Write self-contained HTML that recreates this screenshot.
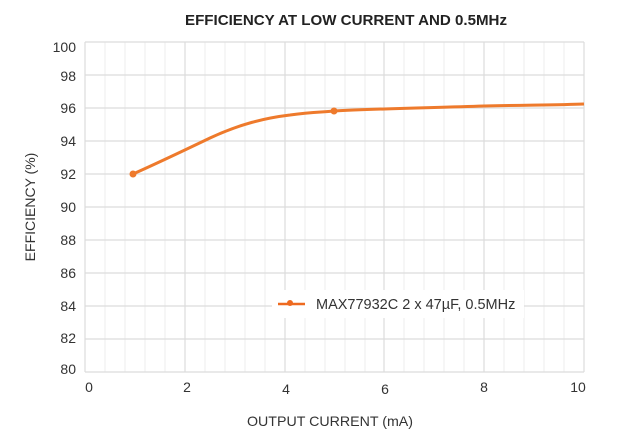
<!DOCTYPE html><html><head><style>body{margin:0;background:#fff}svg{display:block;font-family:"Liberation Sans",sans-serif}</style></head><body>
<svg width="630" height="440" viewBox="0 0 630 440">
<text x="346" y="25" text-anchor="middle" font-size="15" font-weight="bold" fill="#222" textLength="322" lengthAdjust="spacingAndGlyphs">EFFICIENCY AT LOW CURRENT AND 0.5MHz</text>
<g stroke="#eeeeee" stroke-width="1">
<line x1="105" y1="42" x2="105" y2="372"/><line x1="125" y1="42" x2="125" y2="372"/><line x1="145" y1="42" x2="145" y2="372"/><line x1="165" y1="42" x2="165" y2="372"/>
<line x1="205" y1="42" x2="205" y2="372"/><line x1="225" y1="42" x2="225" y2="372"/><line x1="245" y1="42" x2="245" y2="372"/><line x1="265" y1="42" x2="265" y2="372"/>
<line x1="305" y1="42" x2="305" y2="372"/><line x1="325" y1="42" x2="325" y2="372"/><line x1="345" y1="42" x2="345" y2="372"/><line x1="365" y1="42" x2="365" y2="372"/>
<line x1="404" y1="42" x2="404" y2="372"/><line x1="424" y1="42" x2="424" y2="372"/><line x1="444" y1="42" x2="444" y2="372"/><line x1="464" y1="42" x2="464" y2="372"/>
<line x1="504" y1="42" x2="504" y2="372"/><line x1="524" y1="42" x2="524" y2="372"/><line x1="544" y1="42" x2="544" y2="372"/><line x1="564" y1="42" x2="564" y2="372"/>
</g>
<g stroke="#dcdcdc" stroke-width="1.2">
<line x1="85" y1="42" x2="584" y2="42"/><line x1="85" y1="75" x2="584" y2="75"/><line x1="85" y1="108" x2="584" y2="108"/><line x1="85" y1="141" x2="584" y2="141"/><line x1="85" y1="174" x2="584" y2="174"/><line x1="85" y1="207" x2="584" y2="207"/><line x1="85" y1="240" x2="584" y2="240"/><line x1="85" y1="273" x2="584" y2="273"/><line x1="85" y1="306" x2="584" y2="306"/><line x1="85" y1="339" x2="584" y2="339"/><line x1="85" y1="372" x2="584" y2="372"/>
<line x1="85" y1="42" x2="85" y2="372"/><line x1="185" y1="42" x2="185" y2="372"/><line x1="285" y1="42" x2="285" y2="372"/><line x1="384" y1="42" x2="384" y2="372"/><line x1="484" y1="42" x2="484" y2="372"/><line x1="584" y1="42" x2="584" y2="372"/>
</g>
<g font-size="14" fill="#333" text-anchor="end">
<text x="76" y="52">100</text><text x="76" y="81">98</text><text x="76" y="113">96</text><text x="76" y="146">94</text><text x="76" y="179">92</text><text x="76" y="212">90</text><text x="76" y="245">88</text><text x="76" y="278">86</text><text x="76" y="311">84</text><text x="76" y="343">82</text><text x="76" y="374">80</text>
</g>
<g font-size="14" fill="#333" text-anchor="middle">
<text x="89" y="392">0</text><text x="187" y="392">2</text><text x="286" y="394">4</text><text x="385" y="394">6</text><text x="484" y="392">8</text><text x="578" y="392">10</text>
</g>
<text x="330" y="426" text-anchor="middle" font-size="14" fill="#333" textLength="166" lengthAdjust="spacingAndGlyphs">OUTPUT CURRENT (mA)</text>
<text transform="translate(35,207) rotate(-90)" text-anchor="middle" font-size="14" fill="#333">EFFICIENCY (%)</text>
<path d="M133,174 C160,162 185,150 210,138 C240,124 265,118 290,115 C310,112 325,112 334,111 C370,109 420,108 484,106 C530,105 560,105 584,104" fill="none" stroke="#ee7a2c" stroke-width="3"/>
<circle cx="133" cy="174" r="3.5" fill="#ee7a2c"/><circle cx="334" cy="111" r="3.5" fill="#ee7a2c"/>
<rect x="272" y="290" width="252" height="28" fill="#fff"/>
<line x1="278" y1="304" x2="305" y2="304" stroke="#ee6a20" stroke-width="2.5"/><circle cx="290" cy="303" r="3" fill="#ee6a20"/>
<text x="316" y="309" font-size="14.5" fill="#333">MAX77932C 2 x 47µF, 0.5MHz</text>
</svg></body></html>
